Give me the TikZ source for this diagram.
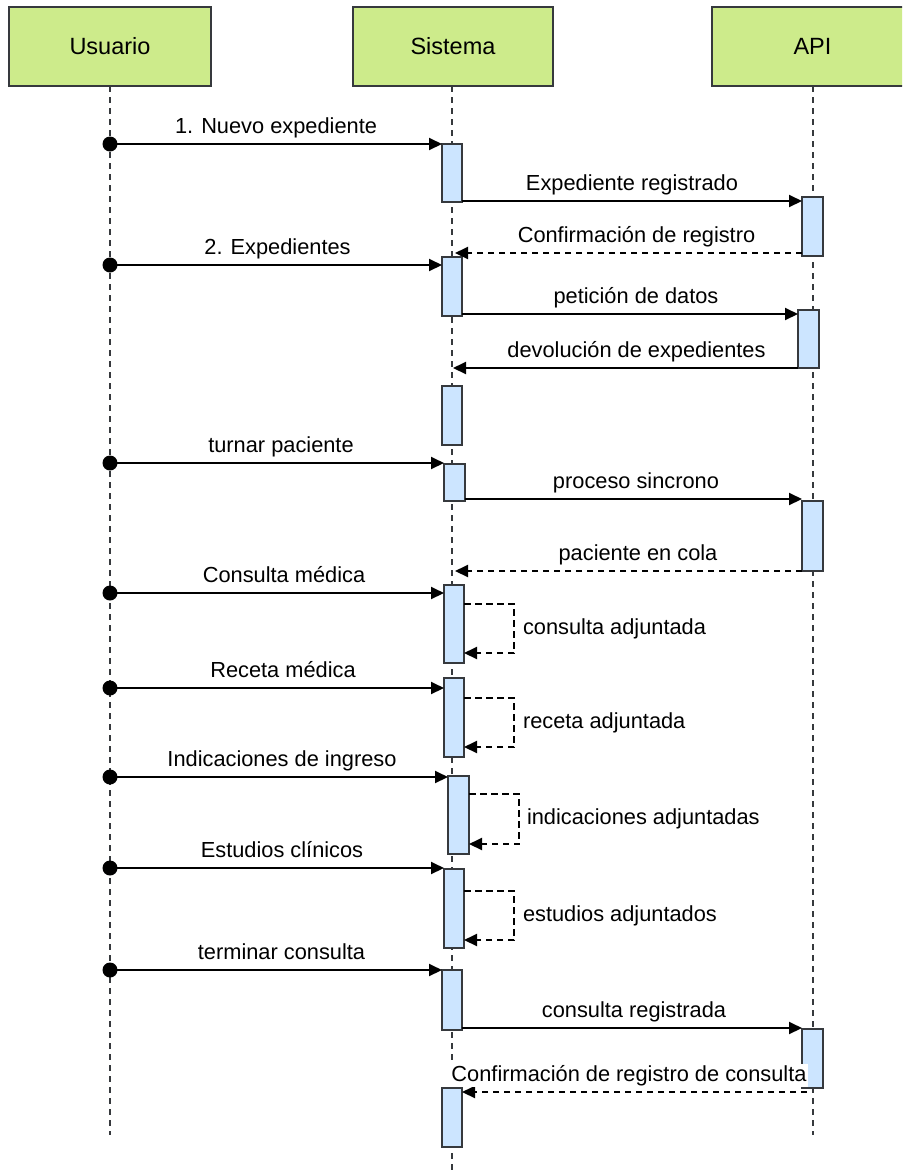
\documentclass[tikz,border=0pt]{standalone}
\usepackage{fontspec}
\setmainfont{Liberation Sans}
\usetikzlibrary{arrows.meta,fit}
\definecolor{headfill}{HTML}{CDEB8B}
\definecolor{edgegray}{HTML}{36393D}
\definecolor{actfill}{HTML}{CCE5FF}

\tikzset{
  head/.style={draw=edgegray, fill=headfill, line width=1pt, minimum width=101pt,
    minimum height=39.5pt, inner sep=0pt, outer sep=0pt, font=\fontsize{11.75}{14}\selectfont},
  lifeline/.style={draw=edgegray, line width=0.7pt, dash pattern=on 3pt off 2.5pt},
  actbox/.style={draw=edgegray, fill=actfill, line width=1pt, inner sep=0pt, outer sep=0pt},
  startdot/.style={circle, fill=black, inner sep=0pt, minimum size=7.5pt},
  msg/.style={line width=1pt, -{Triangle[length=6.5pt,width=6pt]}},
  msgd/.style={msg, dash pattern=on 3.25pt off 2.25pt},
  lbl/.style={font=\fontsize{10.9}{13}\selectfont, fill=white, inner sep=0.5pt,
    anchor=base, yshift=5.5pt},
  sidelbl/.style={font=\fontsize{10.9}{13}\selectfont, anchor=west, inner sep=0pt, xshift=4pt},
}

\begin{document}
\begin{tikzpicture}[x=0.5pt, y=-0.5pt]
\useasboundingbox (0,0) rectangle (902,1174);
\clip (0,0) rectangle (902,1174);
\fill[white] (0,0) rectangle (902,1174);

% participants
\node[head] (hU) at (110,46.5) {Usuario};
\node[head, minimum width=100pt] (hS) at (453,46.5) {Sistema};
\node[head, minimum width=100.5pt] (hA) at (812.5,46.5) {API};

% lifelines
\coordinate (uEnd) at (110,1135);
\coordinate (sEnd) at (452,1174);
\coordinate (aEnd) at (813,1135);
\draw[lifeline] (hU.south) -- (uEnd);
\draw[lifeline] (hS.south -| sEnd) -- (sEnd);
\draw[lifeline] (hA.south -| aEnd) -- (aEnd);

% activation bars
\node[actbox, fit={(442,144) (462,202)}] (s1) {};
\node[actbox, fit={(802,197) (823,256)}] (a1) {};
\node[actbox, fit={(442,257) (462,316)}] (s2) {};
\node[actbox, fit={(798,310) (819,368)}] (a2) {};
\node[actbox, fit={(442,386) (462,445)}] (s3) {};
\node[actbox, fit={(444,464) (465,501)}] (s4) {};
\node[actbox, fit={(802,501) (823,571)}] (a3) {};
\node[actbox, fit={(444,585) (464,663)}] (s5) {};
\node[actbox, fit={(444,678) (464,757)}] (s6) {};
\node[actbox, fit={(448,776) (469,854)}] (s7) {};
\node[actbox, fit={(444,869) (464,948)}] (s8) {};
\node[actbox, fit={(442,970) (462,1030)}] (s9) {};
\node[actbox, fit={(802,1029) (823,1088)}] (a4) {};
\node[actbox, fit={(442,1088) (462,1147)}] (s10) {};

% messages
\node[startdot] (d1) at (110,144) {};
\draw[msg] (d1.center) -- (d1.center -| s1.west) node[lbl, midway] (l1) {1. Nuevo expediente};

\coordinate (m2) at (462,201);
\draw[msg] (m2) -- (m2 -| a1.west) node[lbl, midway] (l2) {Expediente registrado};

\coordinate (r3) at (455,253);
\draw[msgd] (r3 -| a1.west) -- (r3) node[lbl, midway, xshift=4pt] (l3) {Confirmación de registro};

\node[startdot] (d4) at (110,265) {};
\draw[msg] (d4.center) -- (d4.center -| s2.west) node[lbl, midway, xshift=0.75pt] (l4) {2. Expedientes};

\coordinate (m5) at (462,314);
\draw[msg] (m5) -- (m5 -| a2.west) node[lbl, midway, xshift=3pt] (l5) {petición de datos};

\coordinate (r6) at (453,368);
\draw[msg] (r6 -| a2.west) -- (r6) node[lbl, midway, xshift=5.5pt] (l6) {devolución de expedientes};

\node[startdot] (d7) at (110,463) {};
\draw[msg] (d7.center) -- (d7.center -| s4.west) node[lbl, midway, xshift=2pt] (l7) {turnar paciente};

\coordinate (m8) at (465,499);
\draw[msg] (m8) -- (m8 -| a3.west) node[lbl, midway, xshift=1.25pt] (l8) {proceso sincrono};

\coordinate (r9) at (455,571);
\draw[msgd] (r9 -| a3.west) -- (r9) node[lbl, midway, xshift=4.75pt] (l9) {paciente en cola};

\node[startdot] (d10) at (110,593) {};
\draw[msg] (d10.center) -- (d10.center -| s5.west) node[lbl, midway, xshift=3.5pt] (l10) {Consulta médica};

\coordinate (c11) at (464,604);
\draw[msgd] (c11) -- ++(50,0) -- ++(0,49) node[sidelbl, midway] (l11) {consulta adjuntada} -- ++(-50,0);

\node[startdot] (d12) at (110,688) {};
\draw[msg] (d12.center) -- (d12.center -| s6.west) node[lbl, midway, xshift=3pt] (l12) {Receta médica};

\coordinate (c13) at (464,698);
\draw[msgd] (c13) -- ++(50,0) -- ++(0,49) node[sidelbl, midway] (l13) {receta adjuntada} -- ++(-50,0);

\node[startdot] (d14) at (110,777) {};
\draw[msg] (d14.center) -- (d14.center -| s7.west) node[lbl, midway, xshift=1.5pt] (l14) {Indicaciones de ingreso};

\coordinate (c15) at (469,794);
\draw[msgd] (c15) -- ++(50,0) -- ++(0,50) node[sidelbl, midway, xshift=-0.5pt] (l15) {indicaciones adjuntadas} -- ++(-50,0);

\node[startdot] (d16) at (110,868) {};
\draw[msg] (d16.center) -- (d16.center -| s8.west) node[lbl, midway, xshift=2.5pt] (l16) {Estudios clínicos};

\coordinate (c17) at (464,891);
\draw[msgd] (c17) -- ++(50,0) -- ++(0,49) node[sidelbl, midway] (l17) {estudios adjuntados} -- ++(-50,0);

\node[startdot] (d18) at (110,970) {};
\draw[msg] (d18.center) -- (d18.center -| s9.west) node[lbl, midway, xshift=2.75pt] (l18) {terminar consulta};

\coordinate (m19) at (462,1028);
\draw[msg] (m19) -- (m19 -| a4.west) node[lbl, midway, xshift=1pt] (l19) {consulta registrada};

\coordinate (r20) at (807,1092);
\draw[msgd] (r20) -- (r20 -| s10.east) node[lbl, midway, xshift=-2.75pt] (l20) {Confirmación de registro de consulta};
\end{tikzpicture}
\end{document}
